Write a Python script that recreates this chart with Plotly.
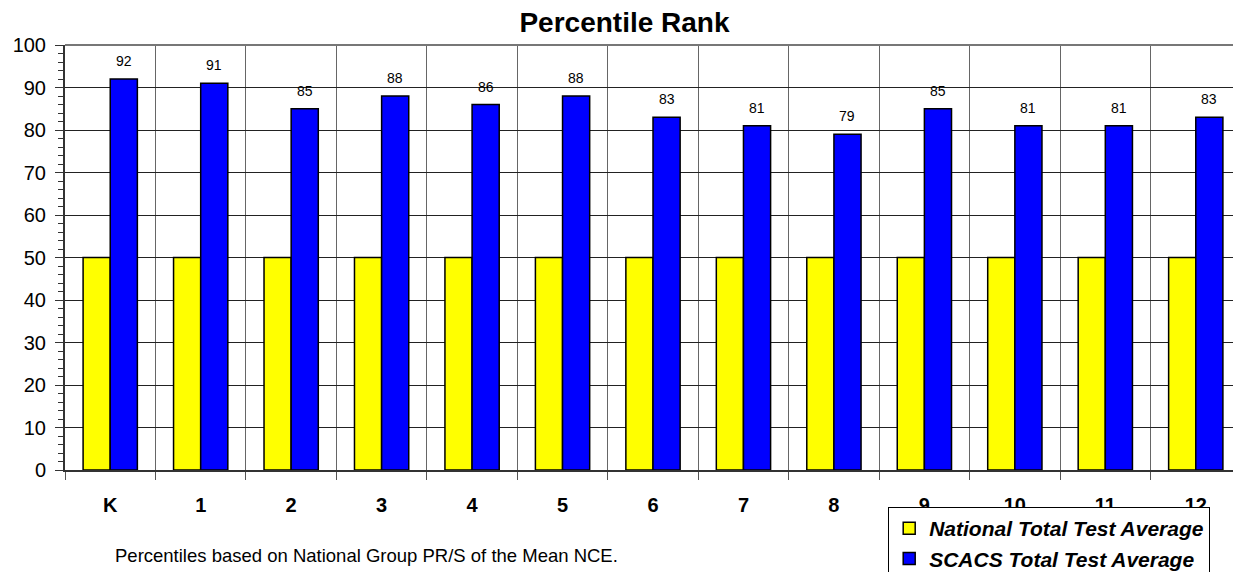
import plotly.graph_objects as go

grades = ["K", "1", "2", "3", "4", "5", "6", "7", "8", "9", "10", "11", "12"]
national = [50, 50, 50, 50, 50, 50, 50, 50, 50, 50, 50, 50, 50]
scacs = [92, 91, 85, 88, 86, 88, 83, 81, 79, 85, 81, 81, 83]

FONT = "Liberation Sans, Arial"

fig = go.Figure()
fig.add_trace(go.Bar(
    x=grades, y=national, name="<b><i>National Total Test Average</i></b>",
    marker=dict(color="#FFFF00", line=dict(color="black", width=1.5)),
))
fig.add_trace(go.Bar(
    x=grades, y=scacs, name="<b><i>SCACS Total Test Average</i></b>",
    marker=dict(color="#0000FF", line=dict(color="black", width=1.5)),
))

# value labels above the blue bars
for g, v in zip(grades, scacs):
    fig.add_annotation(x=g, y=v, text=str(v), showarrow=False,
                       xanchor="center", yanchor="bottom", xshift=13.5, yshift=8,
                       font=dict(family=FONT, size=14, color="black"))

fig.update_layout(
    width=1233, height=564,
    margin=dict(l=57, r=0, t=37, b=102, autoexpand=False),
    paper_bgcolor="white", plot_bgcolor="white",
    barmode="group", bargap=0.4, bargroupgap=0,
    font=dict(family=FONT, color="black"),
    title=dict(text="<b>Percentile Rank</b>", x=0.5, xanchor="center", y=0.975, yanchor="middle",
               font=dict(size=28)),
    legend=dict(
        x=0.7, xanchor="left", y=-0.087, yanchor="top",
        bgcolor="white", bordercolor="black", borderwidth=1,
        font=dict(size=21, family=FONT),
    ),
    showlegend=True,
)
fig.update_xaxes(
    type="category", tickson="boundaries", showgrid=True, gridcolor="#666666", gridwidth=1,
    ticks="outside", ticklen=8, tickcolor="#555555",
    tickfont=dict(size=20, family=FONT),
    tickprefix="<b>", ticksuffix="</b>", ticklabelstandoff=16,
    showline=True, linecolor="#333333", linewidth=2,
    range=[-0.5, 12.5], automargin=False,
)
fig.update_yaxes(
    range=[0, 100], dtick=10, showgrid=True, gridcolor="#222222", gridwidth=1,
    ticks="outside", ticklen=8, tickcolor="#333333",
    minor=dict(dtick=2, ticks="outside", ticklen=5, tickcolor="#333333", showgrid=False),
    tickfont=dict(size=20, family=FONT), ticklabelstandoff=5,
    showline=True, linecolor="#333333", linewidth=2, zeroline=False, automargin=False,
)
fig.add_shape(type="line", xref="paper", yref="paper", x0=0, x1=1, y0=1, y1=1,
              line=dict(color="#777777", width=2))
fig.add_annotation(
    text="Percentiles based on National Group PR/S of the Mean NCE.",
    xref="paper", yref="paper", x=0.041, y=-0.2, xanchor="left", yanchor="middle",
    showarrow=False, font=dict(size=18.5, family=FONT),
)

fig.write_html("out.html")
